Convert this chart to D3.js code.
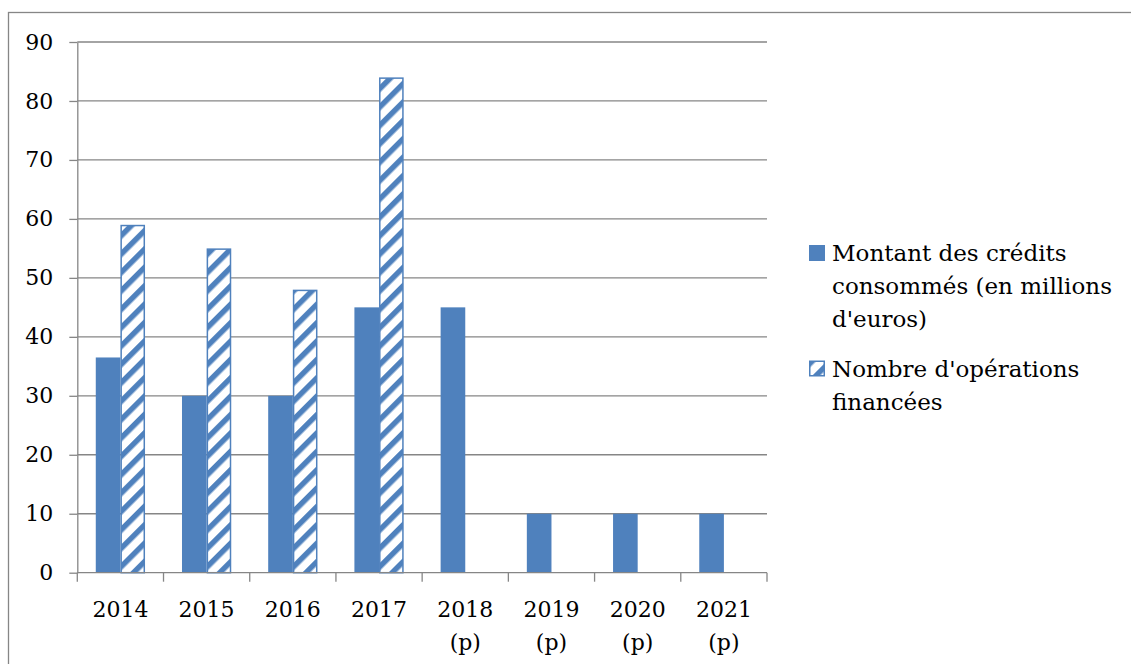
<!DOCTYPE html>
<html>
<head>
<meta charset="utf-8">
<script src="https://cdn.jsdelivr.net/npm/d3@7"></script>
<style>
  html, body { margin: 0; padding: 0; background: #fff; }
  svg { display: block; }
  text { font-family: "DejaVu Serif", "Liberation Serif", serif; fill: #000; }
</style>
</head>
<body>
<svg id="chart" width="1131" height="664"></svg>
<script>
// ---- Data ----
const categories = ["2014", "2015", "2016", "2017", "2018 (p)", "2019 (p)", "2020 (p)", "2021 (p)"];
const categoryLines = [["2014"], ["2015"], ["2016"], ["2017"], ["2018", "(p)"], ["2019", "(p)"], ["2020", "(p)"], ["2021", "(p)"]];
const montant = [36.5, 30, 30, 45, 45, 10, 10, 10];
const operations = [59, 55, 48, 84, null, null, null, null];
const seriesNames = ["Montant des crédits consommés (en millions d'euros)", "Nombre d'opérations financées"];
const legendLines = [["Montant des crédits", "consommés (en millions", "d'euros)"], ["Nombre d'opérations", "financées"]];
const yTicks = [0, 10, 20, 30, 40, 50, 60, 70, 80, 90];

// ---- Layout ----
const blue = "#4F81BD";
const gray = "#868686";
const svg = d3.select("#chart");
const plot = { left: 77.3, right: 767, top: 42, bottom: 572.7 };

// outer frame (extends beyond the page on the right and bottom)
svg.append("rect")
  .attr("x", 8.5).attr("y", 12.5)
  .attr("width", 1200).attr("height", 700)
  .attr("fill", "none").attr("stroke", gray).attr("stroke-width", 1.3);

const defs = svg.append("defs");
const pat = defs.append("pattern")
  .attr("id", "hatch")
  .attr("patternUnits", "userSpaceOnUse")
  .attr("width", 13).attr("height", 13)
  .attr("patternTransform", "rotate(45)");
pat.append("rect").attr("width", 13).attr("height", 13).attr("fill", "#fff");
pat.append("rect").attr("x", 0).attr("width", 5.5).attr("height", 13).attr("fill", blue);

const x0 = d3.scaleBand().domain(categories).range([plot.left, plot.right]).padding(0);
const x1 = d3.scaleBand().domain([0, 1]).range([0, x0.bandwidth()]).paddingInner(0).paddingOuter(0.75);
const y = d3.scaleLinear().domain([0, 90]).range([plot.bottom, plot.top]);

// gridlines
svg.append("g").selectAll("line")
  .data(yTicks.filter(d => d > 0))
  .join("line")
  .attr("x1", plot.left).attr("x2", plot.right)
  .attr("y1", d => y(d)).attr("y2", d => y(d))
  .attr("stroke", gray).attr("stroke-width", 1.3);

// y axis
const yAxis = svg.append("g")
  .attr("transform", `translate(${plot.left},0)`)
  .call(d3.axisLeft(y).tickValues(yTicks).tickSize(8).tickSizeOuter(0).tickPadding(16));
yAxis.select(".domain").attr("stroke", gray).attr("stroke-width", 1.3);
yAxis.selectAll(".tick line").attr("stroke", gray).attr("stroke-width", 1.3);
yAxis.selectAll(".tick text").style("font-size", "22px").style("font-family", "DejaVu Serif").attr("fill", "#000");

// bars
const groups = svg.append("g").selectAll("g")
  .data(categories)
  .join("g")
  .attr("transform", d => `translate(${x0(d)},0)`);

groups.append("rect")
  .attr("x", x1(0))
  .attr("width", x1.bandwidth())
  .attr("y", (d, i) => y(montant[i]))
  .attr("height", (d, i) => y(0) - y(montant[i]))
  .attr("fill", blue);

groups.filter((d, i) => operations[i] != null)
  .append("rect")
  .attr("x", x1(1) + 0.75)
  .attr("width", x1.bandwidth() - 1.5)
  .attr("y", d => y(operations[categories.indexOf(d)]) + 0.75)
  .attr("height", d => y(0) - y(operations[categories.indexOf(d)]) - 0.75)
  .attr("fill", "url(#hatch)")
  .attr("stroke", blue).attr("stroke-width", 1.5);

// x axis
const xg = svg.append("g");
xg.append("line")
  .attr("x1", plot.left).attr("x2", plot.right)
  .attr("y1", y(0)).attr("y2", y(0))
  .attr("stroke", gray).attr("stroke-width", 1.3);
const bounds = categories.map(c => x0(c)).concat([x0.range()[1]]);
xg.selectAll("line.tick")
  .data(bounds)
  .join("line")
  .attr("class", "tick")
  .attr("x1", d => d).attr("x2", d => d)
  .attr("y1", y(0)).attr("y2", y(0) + 9)
  .attr("stroke", gray).attr("stroke-width", 1.3);
const xl = xg.selectAll("text.xl")
  .data(categories)
  .join("text")
  .attr("class", "xl")
  .attr("text-anchor", "middle")
  .attr("x", d => x0(d) + x0.bandwidth() / 2)
  .attr("y", 616.5)
  .style("font-size", "22px");
xl.selectAll("tspan")
  .data((d, i) => categoryLines[i])
  .join("tspan")
  .attr("x", function () { return this.parentNode.getAttribute("x"); })
  .attr("dy", (d, j) => j === 0 ? 0 : 33)
  .text(d => d);

// legend
const legendY = [245, 360.5];
const lg = svg.append("g");
seriesNames.forEach((name, i) => {
  const g = lg.append("g").attr("transform", `translate(809,${legendY[i]})`);
  if (i === 0) {
    g.append("rect").attr("width", 16).attr("height", 16).attr("fill", blue);
  } else {
    g.append("rect").attr("x", 0.75).attr("y", 0.75).attr("width", 14.5).attr("height", 14.5)
      .attr("fill", "url(#hatch)").attr("stroke", blue).attr("stroke-width", 1.5);
  }
  const t = g.append("text").attr("x", 23).attr("y", 16).style("font-size", "23px");
  t.selectAll("tspan").data(legendLines[i]).join("tspan")
    .attr("x", 23).attr("dy", (d, j) => j === 0 ? 0 : 33).text(d => d);
});
</script>
</body>
</html>
